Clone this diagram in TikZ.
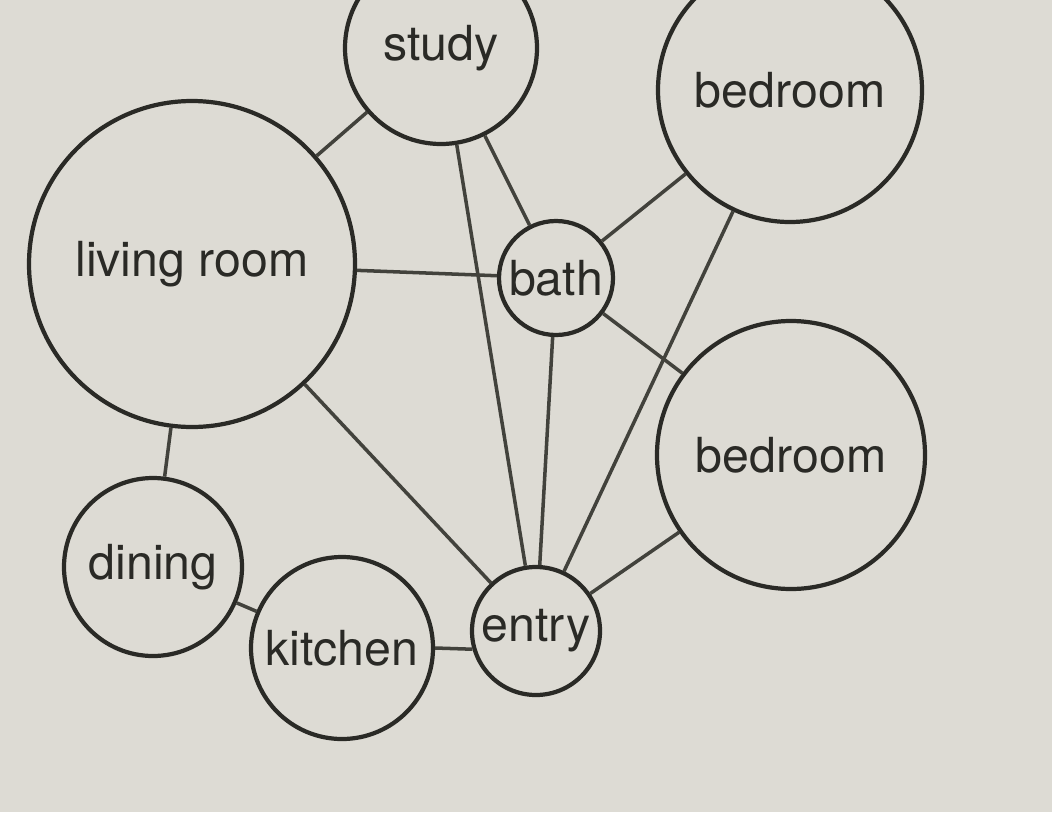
\documentclass[tikz,border=0pt]{standalone}
\usepackage{fontspec}
\setmainfont{TeX Gyre Heros}
\definecolor{paper}{HTML}{DDDBD4}
\definecolor{ink}{HTML}{2A2A26}
\definecolor{wire}{HTML}{42423C}
\tikzset{
  room/.style={circle,draw=ink,line width=2.4pt,inner sep=0pt,text=ink,
    font=\fontsize{27.5}{33}\selectfont},
  link/.style={draw=wire,line width=2pt}
}
\begin{document}
\begin{tikzpicture}[x=0.02cm,y=-0.02cm]
      \fill[paper] (0,0) rectangle (1052,812);
      \clip (0,0) rectangle (1052,812);
      \node[room,minimum size=192*0.02cm] (st) at (441,48) {study};
      \node[room,minimum size=264*0.02cm] (bd1) at (790,90) {bedroom};
      \node[room,minimum size=326*0.02cm] (lr) at (192,264) {\raisebox{-0.2em}{living room}};
      \node[room,minimum size=114*0.02cm] (ba) at (556,278) {bath};
      \node[room,minimum size=268*0.02cm] (bd2) at (791,455) {bedroom};
      \node[room,minimum size=178*0.02cm] (di) at (153,567) {dining};
      \node[room,minimum size=182*0.02cm] (ki) at (342,648) {kitchen};
      \node[room,minimum size=128*0.02cm] (en) at (536,631) {entry};
      \draw[link] (lr) -- (st);
      \draw[link] (lr) -- (ba);
      \draw[link] (lr) -- (di);
      \draw[link] (lr) -- (en);
      \draw[link] (st) -- (ba);
      \draw[link] (st) -- (en);
      \draw[link] (ba) -- (bd1);
      \draw[link] (ba) -- (bd2);
      \draw[link] (ba) -- (en);
      \draw[link] (bd1) -- (en);
      \draw[link] (bd2) -- (en);
      \draw[link] (di) -- (ki);
      \draw[link] (ki.east) -- (en.196);
    \end{tikzpicture}
\end{document}
